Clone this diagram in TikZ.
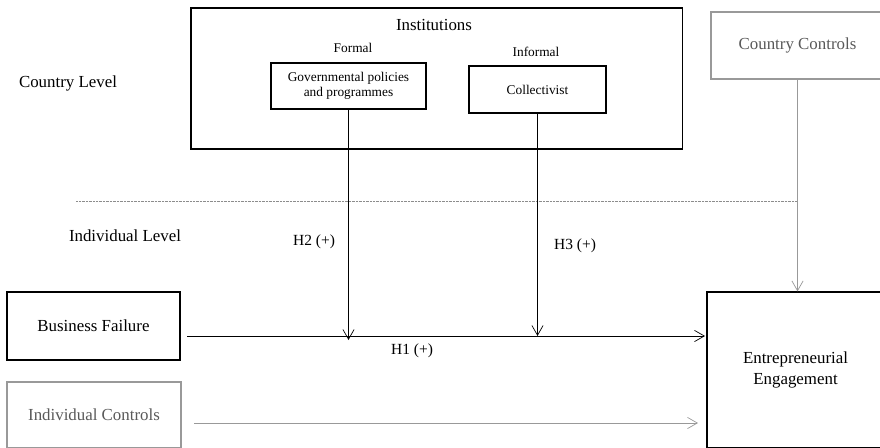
\documentclass[tikz,border=0pt]{standalone}
\usepackage{fontspec}
\setmainfont{Liberation Serif}
\usetikzlibrary{positioning,arrows.meta,calc}

\begin{document}
\begin{tikzpicture}[
  x=0.025cm, y=-0.025cm,
  >={Straight Barb[length=7pt,width=8pt]},
  box/.style={draw, align=center, inner sep=2pt, line width=0.8pt},
  ctrl/.style={box, draw=black!40, text=black!65},
  lvl/.style={font=\fontsize{12}{14.5}\selectfont, inner sep=1pt},
  hyp/.style={font=\fontsize{11}{13}\selectfont, inner sep=1pt},
  sub/.style={font=\fontsize{9.5}{11}\selectfont, inner sep=1pt},
  arr/.style={->, line width=0.5pt},
  carr/.style={arr, draw=black!40},
]
\useasboundingbox (0,0) rectangle (880,447);
\clip (0,0) rectangle (880,447);

% country level
\node[box, minimum width=12.275cm, minimum height=3.525cm] (inst) at (436.5,78.5) {};
\node[lvl] (insttitle) at (434,25) {Institutions};
\node[sub] (formal) at (353,48) {Formal};
\node[sub] (informal) at (536,52) {Informal};
\node[box, minimum width=3.875cm, minimum height=1.15cm, font=\fontsize{9.5}{10.7}\selectfont] (gov) at (348.5,86) {Governmental policies\\ and programmes};
\node[box, minimum width=3.425cm, minimum height=1.175cm, font=\fontsize{9.5}{11}\selectfont] (coll) at (537.5,89.5) {Collectivist};
\node[ctrl, minimum width=4.325cm, minimum height=1.675cm, font=\fontsize{12}{14.5}\selectfont] (cc) at (797.5,45.5) {Country Controls};
\node[lvl] (clevel) at (68,83) {Country Level};

% split between the levels
\coordinate (splitl) at (76,201);
\coordinate (splitr) at (797,201);
\draw[black!45, line width=0.6pt, dash pattern=on 0.6pt off 0.4pt] (splitl) -- (splitr);
\node[lvl] (ilevel) at (125,236) {Individual Level};

% individual level
\node[box, minimum width=4.325cm, minimum height=1.7cm, font=\fontsize{12}{14.5}\selectfont] (bf) at (93.5,326) {Business Failure};
\node[ctrl, minimum width=4.35cm, minimum height=1.65cm, font=\fontsize{12}{14.5}\selectfont] (ic) at (94,415) {Individual Controls};
\node[box, minimum width=4.425cm, minimum height=3.9cm, font=\fontsize{12}{14.5}\selectfont] (ee) at (795.5,370) {Entrepreneurial\\ Engagement};

\coordinate (h1a) at (187,336);
\coordinate (h1b) at (705,336);
\coordinate (ica) at (194,423);
\coordinate (icb) at (698,423);

\draw[arr] (h1a) -- (h1b);
\draw[carr] (ica) -- (icb);
\draw[arr] (gov.south) -- ([yshift=-0.1cm]gov.south |- h1a);
\draw[arr] (coll.south) -- (coll.south |- h1a);
\draw[carr] (cc.south) -- (cc.south |- ee.north);

% hypotheses
\node[hyp] (h1) at (412,351) {H1 (+)};
\node[hyp] (h2) at (314,242) {H2 (+)};
\node[hyp] (h3) at (575,246) {H3 (+)};
\end{tikzpicture}
\end{document}
